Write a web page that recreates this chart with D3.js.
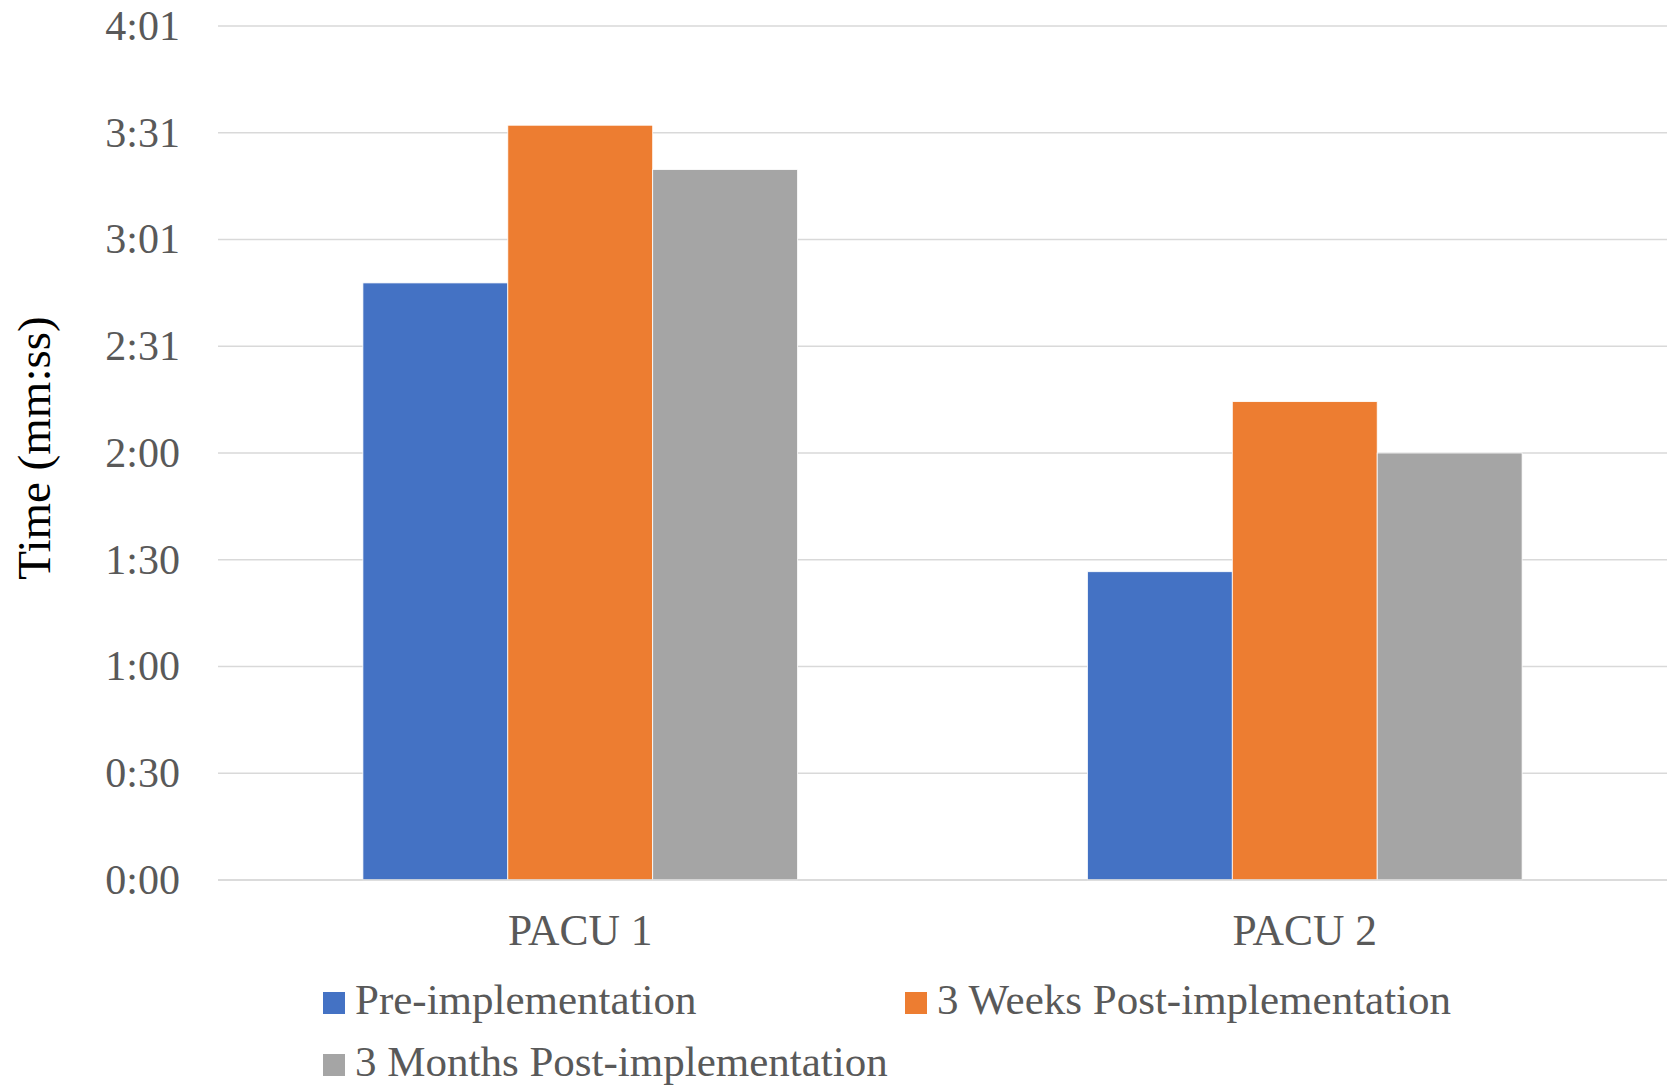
<!DOCTYPE html>
<html>
<head>
<meta charset="utf-8">
<script src="https://cdn.jsdelivr.net/npm/d3@7"></script>
<style>
  html, body { margin: 0; padding: 0; background: #fff; }
  svg { display: block; }
  text { font-family: "Liberation Serif", "Times New Roman", serif; }
</style>
</head>
<body>
<svg id="chart" width="1671" height="1085"></svg>
<script>
// Average times per unit, in seconds
const categories = ["PACU 1", "PACU 2"];
const seriesNames = ["Pre-implementation", "3 Weeks Post-implementation", "3 Months Post-implementation"];
const preImplementation = [168.5, 87];
const threeWeeksPost = [213, 135];
const threeMonthsPost = [200.5, 120.5];
const seriesColors = ["#4472C4", "#ED7D31", "#A5A5A5"];

// Axis runs 0:00 to 4:01 in eight equal steps
const yMax = 241;
const yTickLabels = ["0:00", "0:30", "1:00", "1:30", "2:00", "2:31", "3:01", "3:31", "4:01"];

const seriesValues = [preImplementation, threeWeeksPost, threeMonthsPost];

const svg = d3.select("#chart");
const plot = { left: 218, right: 1667, top: 26, bottom: 880 };

const y = d3.scaleLinear().domain([0, yMax]).range([plot.bottom, plot.top]);
const x0 = d3.scaleBand().domain(categories).range([plot.left, plot.right]).padding(0);
const x1 = d3.scaleBand().domain(seriesNames).range([0, x0.bandwidth()])
  .paddingInner(0).paddingOuter(1);

const tickValues = yTickLabels.map((_, i) => i * yMax / (yTickLabels.length - 1));

// Horizontal gridlines
svg.append("g")
  .selectAll("line")
  .data(tickValues)
  .join("line")
  .attr("x1", plot.left)
  .attr("x2", plot.right)
  .attr("y1", d => y(d))
  .attr("y2", d => y(d))
  .attr("stroke", "#D9D9D9")
  .attr("stroke-width", 1.5);

// Y axis tick labels
const yAxis = d3.axisLeft(y)
  .tickValues(tickValues)
  .tickFormat((d, i) => yTickLabels[i])
  .tickSize(0)
  .tickPadding(38);
const yAxisG = svg.append("g")
  .attr("transform", `translate(${plot.left},0)`)
  .call(yAxis);
yAxisG.select(".domain").remove();
yAxisG.selectAll("text")
  .attr("font-family", "Liberation Serif, Times New Roman, serif")
  .attr("font-size", 42)
  .attr("fill", "#595959");

// Bars
const groups = svg.append("g")
  .selectAll("g")
  .data(categories)
  .join("g")
  .attr("transform", d => `translate(${x0(d)},0)`);

groups.selectAll("rect")
  .data((c, ci) => seriesNames.map((s, si) => ({ series: s, value: seriesValues[si][ci], color: seriesColors[si] })))
  .join("rect")
  .attr("x", d => x1(d.series))
  .attr("width", x1.bandwidth())
  .attr("y", d => y(d.value))
  .attr("height", d => y(0) - y(d.value))
  .attr("fill", d => d.color)
  .attr("stroke", "#ffffff")
  .attr("stroke-width", 0.8);

// Baseline
svg.append("line")
  .attr("x1", plot.left).attr("x2", plot.right)
  .attr("y1", y(0)).attr("y2", y(0))
  .attr("stroke", "#D9D9D9").attr("stroke-width", 1.5);

// Category labels
const xAxis = d3.axisBottom(x0).tickSize(0).tickPadding(0);
const xAxisG = svg.append("g")
  .attr("transform", `translate(0,${plot.bottom})`)
  .call(xAxis);
xAxisG.select(".domain").remove();
xAxisG.selectAll("text")
  .attr("font-family", "Liberation Serif, Times New Roman, serif")
  .attr("font-size", 43.5)
  .attr("fill", "#595959")
  .attr("dy", null)
  .attr("y", 65);

// Y axis title
svg.append("text")
  .attr("transform", `translate(50,448) rotate(-90)`)
  .attr("text-anchor", "middle")
  .attr("font-size", 47)
  .attr("fill", "#000")
  .text("Time (mm:ss)");

// Legend, two columns
const legendCols = 2;
const legend = svg.append("g")
  .selectAll("g")
  .data(seriesNames)
  .join("g")
  .attr("transform", (d, i) => `translate(${323 + (i % legendCols) * 582},${992 + Math.floor(i / legendCols) * 62})`);

legend.append("rect")
  .attr("width", 22)
  .attr("height", 22)
  .attr("fill", (d, i) => seriesColors[i]);

legend.append("text")
  .attr("x", 32)
  .attr("y", 22)
  .attr("font-size", 43)
  .attr("fill", "#595959")
  .text(d => d);
</script>
</body>
</html>
